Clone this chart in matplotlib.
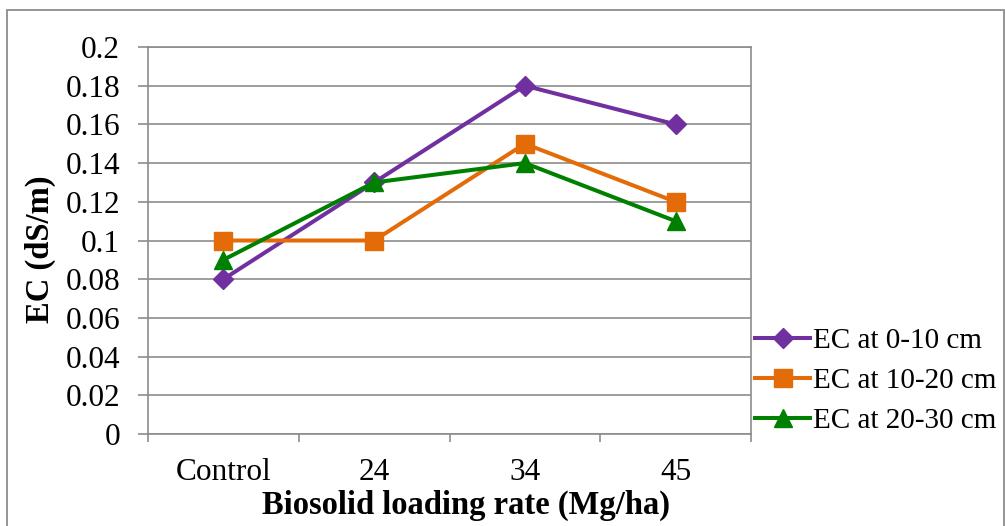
import matplotlib
matplotlib.use("Agg")
import matplotlib.pyplot as plt
from matplotlib.patches import Rectangle
from matplotlib.ticker import FixedLocator, FuncFormatter

categories = ["Control", "24", "34", "45"]
ec_0_10 = [0.08, 0.13, 0.18, 0.16]
ec_10_20 = [0.10, 0.10, 0.15, 0.12]
ec_20_30 = [0.09, 0.13, 0.14, 0.11]
series_labels = ["EC at 0-10 cm", "EC at 10-20 cm", "EC at 20-30 cm"]
y_ticks = [0, 0.02, 0.04, 0.06, 0.08, 0.1, 0.12, 0.14, 0.16, 0.18, 0.2]

plt.rcParams["font.family"] = ["Liberation Serif", "DejaVu Serif"]

W, H = 1005, 526
fig = plt.figure(figsize=(W / 100, H / 100), dpi=100)
fig.patches.append(Rectangle((7 / W, -0.1), (1004 - 7) / W, (H - 10) / H + 0.1,
                             transform=fig.transFigure, fill=False,
                             edgecolor="#8c8c8c", linewidth=1.3))

ax = fig.add_axes([148 / W, 1 - 434 / H, (751 - 148) / W, (434 - 47) / H])

grid_c = "#8c8c8c"
x = list(range(len(categories)))
ax.plot(x, ec_0_10, color="#7030A0", lw=2.9, marker="D", ms=10,
        label=series_labels[0], zorder=3)
ax.plot(x, ec_10_20, color="#E36C09", lw=2.9, marker="s", ms=13,
        label=series_labels[1], zorder=3)
ax.plot(x, ec_20_30, color="#008000", lw=2.9, marker="^", ms=13.5,
        label=series_labels[2], zorder=3)

ax.set_xlim(-0.5, len(categories) - 0.5)
ax.set_ylim(0, 0.2)
ax.yaxis.set_major_locator(FixedLocator(y_ticks))
ax.yaxis.set_major_formatter(FuncFormatter(lambda v, p: f"{v:g}"))
ax.grid(axis="y", color=grid_c, lw=1.2)
ax.set_axisbelow(True)

ax.set_xticks(x)
ax.set_xticklabels(categories)
ax.set_xticks([i - 0.5 for i in range(len(categories) + 1)], minor=True)
ax.tick_params(axis="x", which="major", length=0, pad=17, labelsize=22.5)
ax.tick_params(axis="x", which="minor", length=6, width=1.2, color=grid_c)
ax.tick_params(axis="y", length=7, width=1.2, color=grid_c, labelsize=22.5, pad=13)

for s in ax.spines.values():
    s.set_color(grid_c)
    s.set_linewidth(1.2)

ax.set_xlabel("Biosolid loading rate (Mg/ha)", fontsize=23.5, fontweight="bold",
              labelpad=2)
ax.xaxis.label.set_x(0.527)
ax.set_ylabel("EC (dS/m)", fontsize=23.5, fontweight="bold", labelpad=7)
ax.yaxis.label.set_y(0.478)

fig.legend(loc="center left", bbox_to_anchor=(755 / W, 1 - 381 / H),
           frameon=False, fontsize=21, handlelength=1.9, handletextpad=0.1,
           labelspacing=0.47, borderaxespad=0, borderpad=0)

fig.savefig("out.png", dpi=100)
